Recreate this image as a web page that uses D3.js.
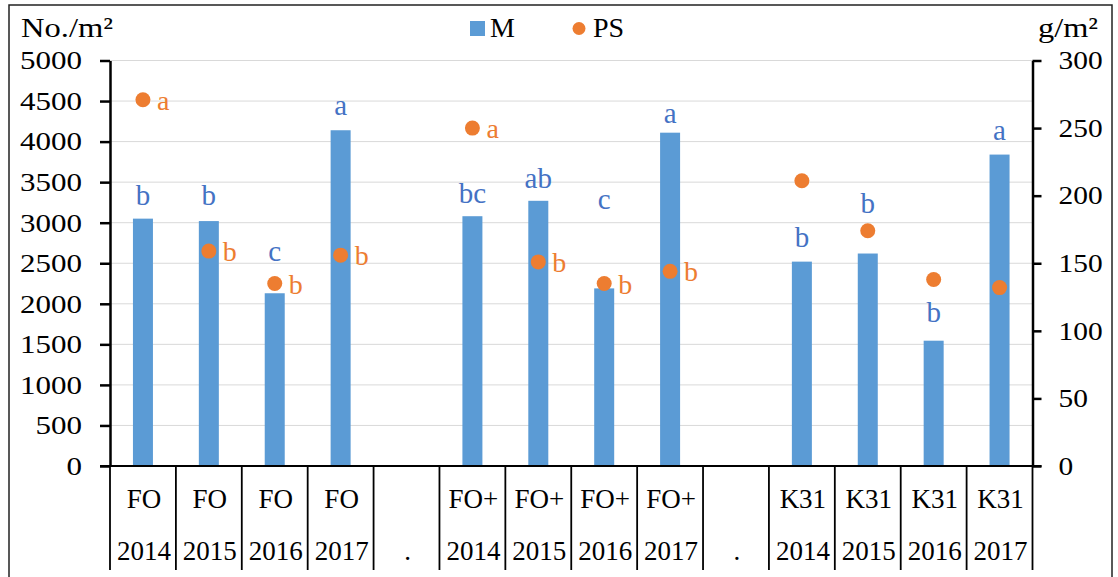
<!DOCTYPE html>
<meta charset="utf-8">
<head>
    <title>M and PS</title>
    <style>
        body { margin: 0; background: #fff; }
        text { font-family: "Liberation Serif", "Times New Roman", serif; }
    </style>
</head>

<script src="https://d3js.org/d3.v7.min.js"></script>

<div id="dataVis"></div>

<script>

    // data
    var catTop    = ["FO", "FO", "FO", "FO", "", "FO+", "FO+", "FO+", "FO+", "", "K31", "K31", "K31", "K31"];
    var catBottom = ["2014", "2015", "2016", "2017", ".", "2014", "2015", "2016", "2017", ".", "2014", "2015", "2016", "2017"];
    var mValues   = [3050, 3020, 2130, 4140, null, 3080, 3270, 2190, 4110, null, 2520, 2620, 1545, 3840];
    var psValues  = [271, 159, 135, 156, null, 250, 151, 135, 144, null, 211, 174, 138, 132];
    var mLetters  = ["b", "b", "c", "a", "", "bc", "ab", "c", "a", "", "b", "b", "b", "a"];
    var mLetterAt = [3214, 3214, 2525, 4323, null, 3243, 3432, 3165, 4224, null, 2700, 3120, 1770, 4015];
    var psLetters = ["a", "b", "b", "b", "", "a", "b", "b", "b", "", "", "", "", ""];
    var leftTicks  = [0, 500, 1000, 1500, 2000, 2500, 3000, 3500, 4000, 4500, 5000];
    var rightTicks = [0, 50, 100, 150, 200, 250, 300];

    var blue = "#5b9bd5", orange = "#ed7d31", letterBlue = "#4472c4";

    var W = 1118, H = 577;
    var x0 = 110, x1 = 1032.5, yTop = 60.5, yBase = 466;

    var svg = d3.select("#dataVis")
        .append("svg")
        .attr("width", W)
        .attr("height", H);

    // outer frame
    svg.append("rect")
        .attr("x", 9).attr("y", 5)
        .attr("width", 1103).attr("height", 600)
        .attr("fill", "none").attr("stroke", "#222").attr("stroke-width", 1.5);

    var idx = d3.range(catTop.length);

    var x = d3.scaleBand()
        .domain(idx)
        .range([x0, x1])
        .padding(0);

    var yL = d3.scaleLinear().domain([0, 5000]).range([yBase, yTop]);
    var yR = d3.scaleLinear().domain([0, 300]).range([yBase, yTop]);

    // gridlines
    svg.append("g")
        .selectAll("line")
        .data(leftTicks.slice(1))
        .enter()
        .append("line")
        .attr("x1", x0).attr("x2", x1)
        .attr("y1", function (d) { return yL(d); })
        .attr("y2", function (d) { return yL(d); })
        .attr("stroke", "#d9d9d9").attr("stroke-width", 1);

    // bars
    var barW = 20;
    svg.append("g")
        .selectAll("rect")
        .data(idx.filter(function (i) { return mValues[i] != null; }))
        .enter()
        .append("rect")
        .attr("x", function (i) { return x(i) + x.bandwidth() / 2 - barW / 2; })
        .attr("width", barW)
        .attr("y", function (i) { return yL(mValues[i]); })
        .attr("height", function (i) { return yBase - yL(mValues[i]); })
        .attr("fill", blue);

    // left axis
    var gl = svg.append("g").attr("transform", "translate(" + x0 + ",0)")
        .call(d3.axisLeft(yL).tickValues(leftTicks).tickFormat(d3.format("d"))
            .tickSize(10).tickSizeOuter(0).tickPadding(18));
    gl.select(".domain").attr("stroke", "#000").attr("stroke-width", 2.5);
    gl.selectAll(".tick line").attr("stroke", "#000").attr("stroke-width", 2.5);
    gl.selectAll(".tick text")
        .attr("font-family", "Liberation Serif")
        .attr("font-size", 26).attr("fill", "#000")
        .attr("textLength", function (d) { return String(d).length * 15.5; })
        .attr("lengthAdjust", "spacingAndGlyphs");

    // right axis
    var gr = svg.append("g").attr("transform", "translate(" + x1 + ",0)")
        .call(d3.axisRight(yR).tickValues(rightTicks).tickFormat(d3.format("d"))
            .tickSize(9).tickSizeOuter(0).tickPadding(17));
    gr.select(".domain").attr("stroke", "#000").attr("stroke-width", 2.5);
    gr.selectAll(".tick line").attr("stroke", "#000").attr("stroke-width", 2.5);
    gr.selectAll(".tick text")
        .attr("font-family", "Liberation Serif")
        .attr("font-size", 26).attr("fill", "#000")
        .attr("textLength", function (d) { return String(d).length * 14.7; })
        .attr("lengthAdjust", "spacingAndGlyphs");

    // bottom axis line
    svg.append("line")
        .attr("x1", x0 - 10).attr("x2", x1 + 9)
        .attr("y1", yBase).attr("y2", yBase)
        .attr("stroke", "#000").attr("stroke-width", 2);

    // category dividers
    svg.append("g")
        .selectAll("line")
        .data(d3.range(catTop.length + 1))
        .enter()
        .append("line")
        .attr("x1", function (i) { return i < catTop.length ? x(i) : x1; })
        .attr("x2", function (i) { return i < catTop.length ? x(i) : x1; })
        .attr("y1", yBase).attr("y2", 570)
        .attr("stroke", "#000").attr("stroke-width", 1.8);

    // category labels
    var cat = svg.append("g").selectAll("g")
        .data(idx)
        .enter()
        .append("g");
    cat.append("text")
        .attr("x", function (i) { return x(i) + x.bandwidth() / 2 + 1; })
        .attr("y", 508)
        .attr("text-anchor", "middle")
        .style("font-size", "27px")
        .text(function (i) { return catTop[i]; });
    cat.append("text")
        .attr("x", function (i) { return x(i) + x.bandwidth() / 2 + 1; })
        .attr("y", 560)
        .attr("text-anchor", "middle")
        .style("font-size", "27px")
        .text(function (i) { return catBottom[i]; });

    // PS dots
    svg.append("g")
        .selectAll("circle")
        .data(idx.filter(function (i) { return psValues[i] != null; }))
        .enter()
        .append("circle")
        .attr("cx", function (i) { return x(i) + x.bandwidth() / 2; })
        .attr("cy", function (i) { return yR(psValues[i]); })
        .attr("r", 7.5)
        .attr("fill", orange);

    // significance letters for M
    svg.append("g")
        .selectAll("text")
        .data(idx.filter(function (i) { return mLetters[i] !== ""; }))
        .enter()
        .append("text")
        .attr("x", function (i) { return x(i) + x.bandwidth() / 2; })
        .attr("y", function (i) { return yL(mLetterAt[i]); })
        .attr("text-anchor", "middle")
        .attr("fill", letterBlue)
        .style("font-size", "29px")
        .text(function (i) { return mLetters[i]; });

    // significance letters for PS
    svg.append("g")
        .selectAll("text")
        .data(idx.filter(function (i) { return psLetters[i] !== ""; }))
        .enter()
        .append("text")
        .attr("x", function (i) { return x(i) + x.bandwidth() / 2 + 14; })
        .attr("y", function (i) { return yR(psValues[i]) + 10; })
        .attr("fill", orange)
        .style("font-size", "28px")
        .text(function (i) { return psLetters[i]; });

    // axis titles
    svg.append("text")
        .attr("x", 21).attr("y", 37)
        .style("font-size", "28px")
        .attr("textLength", 92).attr("lengthAdjust", "spacingAndGlyphs")
        .text("No./m²");
    svg.append("text")
        .attr("x", 1038).attr("y", 37)
        .style("font-size", "28px")
        .attr("textLength", 60).attr("lengthAdjust", "spacingAndGlyphs")
        .text("g/m²");

    // legend
    var leg = svg.append("g");
    leg.append("rect")
        .attr("x", 470).attr("y", 21).attr("width", 15).attr("height", 15)
        .attr("fill", blue);
    leg.append("text")
        .attr("x", 490).attr("y", 37)
        .style("font-size", "28px")
        .text("M");
    leg.append("circle")
        .attr("cx", 579).attr("cy", 28.5).attr("r", 6.5)
        .attr("fill", orange);
    leg.append("text")
        .attr("x", 593).attr("y", 37)
        .style("font-size", "28px")
        .text("PS");

</script>
